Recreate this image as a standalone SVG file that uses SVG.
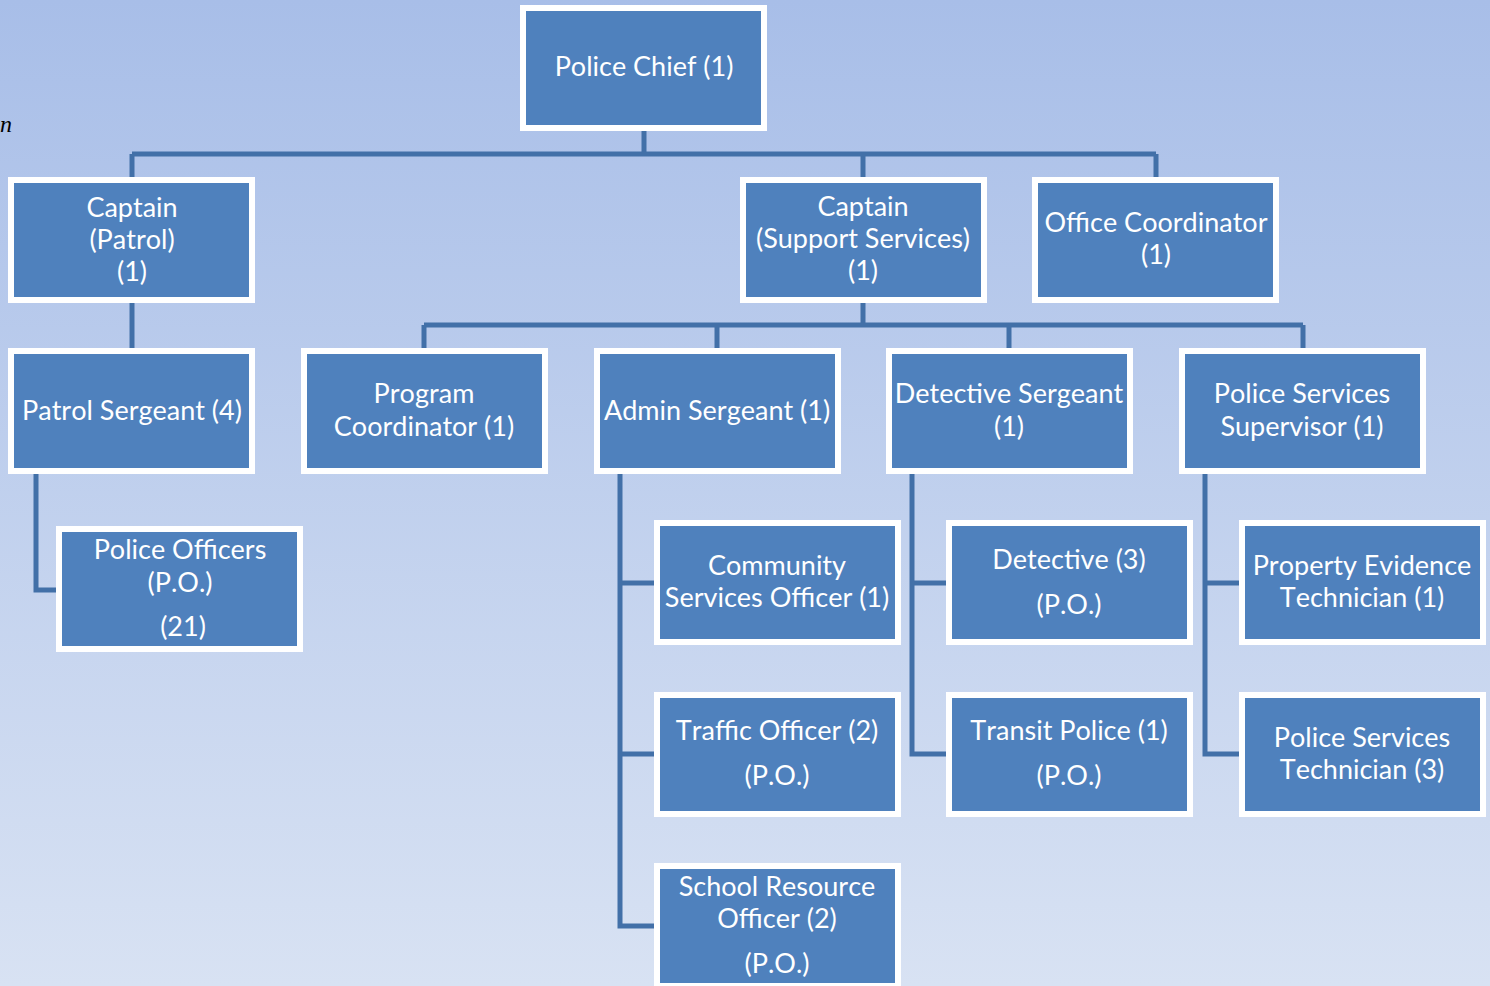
<svg xmlns="http://www.w3.org/2000/svg" width="1490" height="986" viewBox="0 0 1490 986">
<defs>
<linearGradient id="bg" x1="0" y1="0" x2="0" y2="1">
<stop offset="0" stop-color="#a8bee8"/>
<stop offset="1" stop-color="#d8e2f3"/>
</linearGradient>
<style>
.box{fill:#4f81bd;stroke:#ffffff;stroke-width:6}
.t{fill:#ffffff;font-family:Lato,"Open Sans","Liberation Sans",sans-serif;font-size:27px;text-anchor:middle;font-kerning:none}
.c{fill:none;stroke:#4270a8;stroke-width:5}
</style>
</defs>
<rect width="1490" height="986" fill="url(#bg)"/>
<text x="0" y="132" font-family="Liberation Serif,serif" font-style="italic" font-size="24" fill="#000">n</text>
<g id="connectors">
<path class="c" d="M644 131V154M132 154H1156M132 154V177M863 154V177M1156 154V177"/>
<path class="c" d="M132 302V348"/>
<path class="c" d="M863 302V325M424 325H1303M424 325V348M717 325V348M1009 325V348M1303 325V348"/>
<path class="c" d="M36 474V590H56"/>
<path class="c" d="M620 474V926H654M620 583H654M620 754H654"/>
<path class="c" d="M912 474V754H946M912 583H946"/>
<path class="c" d="M1205 474V754H1239M1205 583H1239"/>
</g>
<g id="police-chief"><rect class="box" x="523" y="8" width="241" height="120"/><text class="t" x="644" y="76">Police Chief (1)</text></g>
<g id="captain-patrol"><rect class="box" x="11" y="180" width="241" height="120"/><text class="t" x="132" y="217">Captain</text><text class="t" x="132" y="249">(Patrol)</text><text class="t" x="132" y="281">(1)</text></g>
<g id="captain-support"><rect class="box" x="743" y="180" width="241" height="120"/><text class="t" x="863" y="216">Captain</text><text class="t" x="863" y="248">(Support Services)</text><text class="t" x="863" y="280">(1)</text></g>
<g id="office-coordinator"><rect class="box" x="1035" y="180" width="241" height="120"/><text class="t" x="1156" y="232">Office Coordinator</text><text class="t" x="1156" y="264">(1)</text></g>
<g id="patrol-sergeant"><rect class="box" x="11" y="351" width="241" height="120"/><text class="t" x="132" y="420">Patrol Sergeant (4)</text></g>
<g id="program-coordinator"><rect class="box" x="304" y="351" width="241" height="120"/><text class="t" x="424" y="403">Program</text><text class="t" x="424" y="436">Coordinator (1)</text></g>
<g id="admin-sergeant"><rect class="box" x="597" y="351" width="241" height="120"/><text class="t" x="717" y="420">Admin Sergeant (1)</text></g>
<g id="detective-sergeant"><rect class="box" x="889" y="351" width="241" height="120"/><text class="t" x="1009" y="403">Detective Sergeant</text><text class="t" x="1009" y="436">(1)</text></g>
<g id="police-services-supervisor"><rect class="box" x="1182" y="351" width="241" height="120"/><text class="t" x="1302" y="403">Police Services</text><text class="t" x="1302" y="436">Supervisor (1)</text></g>
<g id="police-officers"><rect class="box" x="59" y="529" width="241" height="120"/><text class="t" x="180" y="559">Police Officers</text><text class="t" x="180" y="592">(P.O.)</text><text class="t" x="183" y="636">(21)</text></g>
<g id="community-services-officer"><rect class="box" x="657" y="523" width="241" height="119"/><text class="t" x="777" y="575">Community</text><text class="t" x="777" y="607">Services Officer (1)</text></g>
<g id="traffic-officer"><rect class="box" x="657" y="695" width="241" height="119"/><text class="t" x="777" y="740">Traffic Officer (2)</text><text class="t" x="777" y="785">(P.O.)</text></g>
<g id="school-resource-officer"><rect class="box" x="657" y="866" width="241" height="120"/><text class="t" x="777" y="896">School Resource</text><text class="t" x="777" y="928">Officer (2)</text><text class="t" x="777" y="973">(P.O.)</text></g>
<g id="detective"><rect class="box" x="949" y="523" width="241" height="119"/><text class="t" x="1069" y="569">Detective (3)</text><text class="t" x="1069" y="614">(P.O.)</text></g>
<g id="transit-police"><rect class="box" x="949" y="695" width="241" height="119"/><text class="t" x="1069" y="740">Transit Police (1)</text><text class="t" x="1069" y="785">(P.O.)</text></g>
<g id="property-evidence-technician"><rect class="box" x="1242" y="523" width="241" height="119"/><text class="t" x="1362" y="575">Property Evidence</text><text class="t" x="1362" y="607">Technician (1)</text></g>
<g id="police-services-technician"><rect class="box" x="1242" y="695" width="241" height="119"/><text class="t" x="1362" y="747">Police Services</text><text class="t" x="1362" y="779">Technician (3)</text></g>
</svg>
